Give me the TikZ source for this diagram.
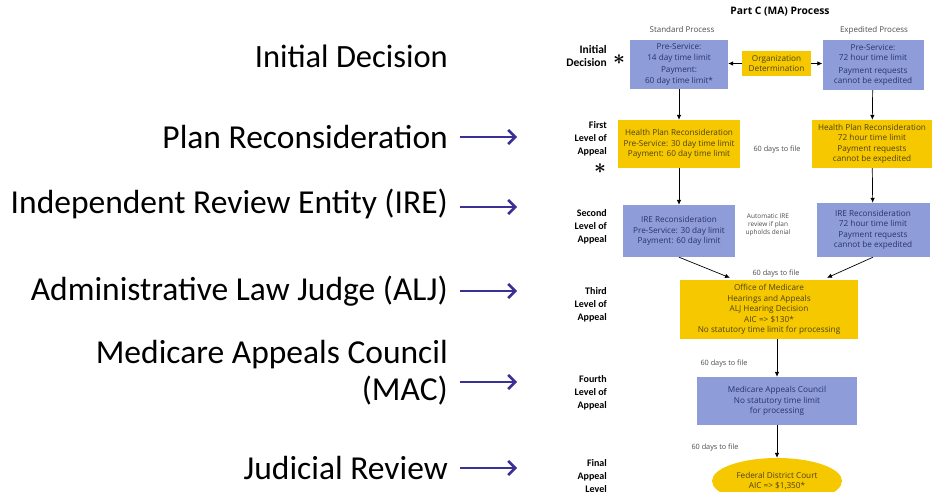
\documentclass[tikz,border=0pt]{standalone}
\usepackage{fontspec}
\setmainfont{Carlito}
\newfontfamily\chartfont{Open Sans}
\usetikzlibrary{arrows.meta,shapes.geometric}
\definecolor{boxblue}{HTML}{8E9CDA}
\definecolor{boxyellow}{HTML}{F5C800}
\definecolor{pointblue}{HTML}{3A3096}
\definecolor{textblue}{HTML}{2C3366}
\definecolor{textolive}{HTML}{4E4212}
\begin{document}
\begin{tikzpicture}[
  x=1pt, y=-1pt,
  every node/.style={inner sep=0pt},
  bluebox/.style={fill=boxblue, text=textblue, align=center, font=\chartfont\fontsize{8.2}{10.5}\selectfont},
  yellowbox/.style={fill=boxyellow, text=textolive, align=center, font=\chartfont\fontsize{8.2}{10.5}\selectfont},
  level/.style={anchor=east, align=right, font=\bfseries\fontsize{10}{13}\selectfont},
  biglabel/.style={anchor=east, align=right, font=\fontsize{33.5}{37}\selectfont},
  pointer/.style={pointblue, line width=2.6pt, -{Straight Barb[length=7pt,width=14pt]}},
  flow/.style={line width=0.7pt, -{Latex[length=5pt,width=4.5pt]}},
  note/.style={align=center, text=black!70, font=\chartfont\fontsize{7.3}{8.5}\selectfont},
  star/.style={font=\fontsize{22}{22}\selectfont\boldmath, text height=9pt, text depth=0pt}
]
\useasboundingbox (0,0) rectangle (932,492);
\clip (0,0) rectangle (932,492);

% Left labels
\node[biglabel, font=\fontsize{32.5}{37}\selectfont] (initial) at (448,56) {Initial Decision};
\node[biglabel] (plan)    at (448,137) {Plan Reconsideration};
\node[biglabel] (ire)     at (448,204) {Independent Review Entity (IRE)};
\node[biglabel] (alj)     at (448,291) {Administrative Law Judge (ALJ)};
\node[biglabel] (mac)     at (448,373) {Medicare Appeals Council\\(MAC)};
\node[biglabel] (judicial) at (448,468) {Judicial Review};

\draw[pointer] ([xshift=12pt]plan.east) -- ([xshift=69pt]plan.east);
\draw[pointer] ([xshift=12pt,yshift=-3pt]ire.east) -- ([xshift=69pt,yshift=-3pt]ire.east);
\draw[pointer] ([xshift=12pt]alj.east) -- ([xshift=69pt]alj.east);
\draw[pointer] ([xshift=12pt,yshift=-9pt]mac.east) -- ([xshift=69pt,yshift=-9pt]mac.east);
\draw[pointer] ([xshift=12pt]judicial.east) -- ([xshift=69pt]judicial.east);

% Headings
\node[font=\chartfont\bfseries\fontsize{10.3}{12}\selectfont] (title) at (780,12) {Part C (MA) Process};
\node[note, font=\chartfont\fontsize{8}{9}\selectfont] (stdhead) at (682,30) {Standard Process};
\node[note, font=\chartfont\fontsize{8}{9}\selectfont] (exphead) at (874,30) {Expedited Process};

% Level names
\node[level, font=\bfseries\fontsize{11.5}{13}\selectfont] (lvl0) at (607,56) {Initial\\Decision};
\node[level] (lvl1) at (607,139) {First\\Level of\\Appeal};
\node[level] (lvl2) at (607,227) {Second\\Level of\\Appeal};
\node[level] (lvl3) at (607,305) {Third\\Level of\\Appeal};
\node[level] (lvl4) at (607,393) {Fourth\\Level of\\Appeal};
\node[level] (lvl5) at (607,476) {Final\\Appeal\\Level};
\node[star] (star0) at (619,60)  {$\ast$};
\node[star] (star1) at (600,169) {$\ast$};

% Initial decision
\node[bluebox, minimum width=98pt, minimum height=49pt] (stdinit) at (679,64.5)
  {Pre-Service:\\14 day time limit\\[2pt]Payment:\\60 day time limit*};
\node[yellowbox, minimum width=69pt, minimum height=25pt] (orgdet) at (776.5,63.5)
  {Organization\\Determination};
\node[bluebox, minimum width=101pt, minimum height=50pt] (expinit) at (873,65)
  {Pre-Service:\\72 hour time limit\\[2pt]Payment requests\\cannot be expedited};

% First level
\node[yellowbox, minimum width=122pt, minimum height=48pt] (stdhpr) at (679,144)
  {Health Plan Reconsideration\\Pre-Service: 30 day time limit\\Payment: 60 day time limit};
\node[note] (file1) at (777,150) {60 days to file};
\node[yellowbox, minimum width=120pt, minimum height=48pt] (exphpr) at (872,144)
  {Health Plan Reconsideration\\72 hour time limit\\Payment requests\\cannot be expedited};

% Second level
\node[bluebox, minimum width=112pt, minimum height=52pt] (stdire) at (679,231)
  {IRE Reconsideration\\Pre-Service: 30 day limit\\Payment: 60 day limit};
\node[note, font=\chartfont\fontsize{6.5}{8}\selectfont] (autoire) at (768,225) {Automatic IRE\\review if plan\\upholds denial};
\node[bluebox, minimum width=113pt, minimum height=54pt] (expire) at (873,230)
  {IRE Reconsideration\\72 hour time limit\\Payment requests\\cannot be expedited};

% Third level
\node[note] (file2) at (776,274) {60 days to file};
\node[yellowbox, minimum width=178pt, minimum height=59pt] (omha) at (769,309.5)
  {Office of Medicare\\Hearings and Appeals\\ALJ Hearing Decision\\AIC => \$130*\\No statutory time limit for processing};

% Fourth level
\node[note] (file3) at (724,364) {60 days to file};
\node[bluebox, minimum width=160pt, minimum height=48pt] (council) at (777,401)
  {Medicare Appeals Council\\No statutory time limit\\for processing};

% Final level
\node[note] (file4) at (715,448) {60 days to file};
\node[ellipse, fill=boxyellow, text=textolive, align=center, font=\chartfont\fontsize{8.2}{10.5}\selectfont,
  minimum width=130pt, minimum height=46pt] (court) at (777,481)
  {Federal District Court\\AIC => \$1,350*};

% Connectors
\draw[flow] (orgdet.west) -- (orgdet.west -| stdinit.east);
\draw[flow] (orgdet.east) -- (orgdet.east -| expinit.west);
\draw[flow] (stdinit) -- (stdhpr);
\draw[flow] (expinit) -- (exphpr);
\draw[flow] (stdhpr) -- (stdire);
\draw[flow] (exphpr) -- (expire);
\draw[flow] (stdire.south) -- ([xshift=-39pt,yshift=2pt]omha.north);
\draw[flow] (expire.south) -- ([xshift=58pt,yshift=2pt]omha.north);
\draw[flow] (omha.south -| council.north) -- (council.north);
\draw[flow] (council) -- (court);
\end{tikzpicture}
\end{document}
